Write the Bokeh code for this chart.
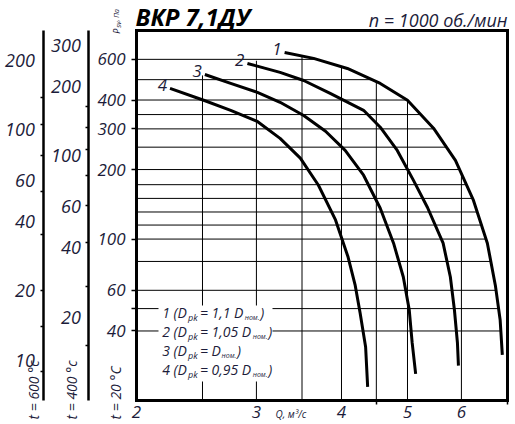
import numpy as np
from bokeh.plotting import figure
from bokeh.models import (Range1d, LogScale, LogAxis, FixedTicker,
                          NumeralTickFormatter, Label, BoxAnnotation)
from bokeh.core.properties import value
from bokeh.embed import file_html
from bokeh.resources import INLINE

# ---------------- data ----------------
Q_RANGE = [2, 7]          # m3/s
P_RANGE = [20, 800]       # Pa at 20 C

CURVE_NAMES = ["1", "2", "3", "4"]
Q1 = [3.30, 3.64, 4.08, 4.56, 5.00, 5.46, 5.88, 6.25, 6.55, 6.73, 6.84, 6.89]
P1 = [643, 606, 548, 472, 399, 302, 219, 147, 96, 63, 44.6, 31.5]
Q2 = [2.91, 3.25, 3.52, 3.85, 4.31, 4.56, 4.83, 5.10, 5.35, 5.64, 5.78, 5.86, 5.92, 5.94]
P2 = [576, 527, 486, 427, 361, 305, 242, 180, 137, 96, 68.5, 49.3, 35.5, 28.3]
Q3 = [2.52, 2.75, 3.01, 3.25, 3.52, 3.79, 4.05, 4.31, 4.56, 4.77, 4.93, 5.03, 5.08, 5.14]
P3 = [516, 472, 432, 391, 343, 293, 242, 189, 136, 96, 68.5, 49.3, 35.5, 26.1]
Q4 = [2.24, 2.51, 2.75, 3.01, 3.25, 3.48, 3.70, 3.92, 4.09, 4.19, 4.26, 4.34, 4.37]
P4 = [449, 399, 361, 323, 273, 224, 171, 121, 83.6, 63, 47.9, 34.1, 22.9]

P_GRID = [600, 490, 400, 346, 300, 250, 200, 172, 150, 131, 115, 100, 80, 60, 50, 40]
Q_GRID = [2.5, 3, 3.5, 4, 4.5, 5, 6]

P_TICKS = [40, 60, 100, 200, 300, 400, 600]
P_MINOR = [50]
Q_TICKS = [2, 3, 4, 5, 6]
Q_MINOR = [4.5, 7]

TEMPS = [20, 400, 600]
T400_TICKS = [20, 40, 60, 100, 200, 300]
T400_MINOR = [15, 27, 42, 61, 82, 106, 133, 163]
T600_TICKS = [10, 20, 40, 60, 100, 200]
T600_MINOR = [9, 14, 20, 35, 54, 77, 105, 137]

LEGEND_NUMS = ["1", "2", "3", "4"]
LEGEND_RATIOS = ["1,1 ", "1,05 ", "", "0,95 "]

TITLE = "ВКР 7,1ДУ"
SPEED = "n = 1000 об./мин"
Q_LABEL = "Q, м³/с"

# ---------------- layout (pixels) ----------------
W, H = 513, 422
AREA_L, AREA_R, AREA_T, AREA_B = 136, 506.5, 30, 400
AUX_PX = {"t400": 88.3, "t600": 43.3}

lx0, lx1 = np.log10(Q_RANGE)
ly0, ly1 = np.log10(P_RANGE)
kx = (lx1 - lx0) / (AREA_R - AREA_L)
ky = (ly1 - ly0) / (AREA_B - AREA_T)
x_lo = 10 ** (lx0 - kx * AREA_L)
x_hi = 10 ** (lx1 + kx * (W - AREA_R))
y_lo = 10 ** (ly0 - ky * (H - AREA_B))
y_hi = 10 ** (ly1 + ky * AREA_T)


def x_at(px):
    return 10 ** (lx0 + kx * (px - AREA_L))


FONT = "Open Sans"
TXT = "#1c1c3a"

p = figure(width=W, height=H, x_axis_type="log", y_axis_type="log",
           x_range=Range1d(x_lo, x_hi), y_range=Range1d(y_lo, y_hi),
           output_backend="svg", toolbar_location=None,
           min_border=0, min_border_left=0, min_border_right=0,
           min_border_top=0, min_border_bottom=0)
p.background_fill_color = "white"
p.border_fill_color = "white"
p.outline_line_color = None
p.grid.visible = False


def style_labels(ax, size):
    ax.major_label_text_font = FONT
    ax.major_label_text_font_style = "italic"
    ax.major_label_text_font_size = size
    ax.major_label_text_color = TXT


def frame_line(ax, width=3):
    ax.axis_line_color = "black"
    ax.axis_line_width = width
    ax.axis_line_cap = "square"


# main pressure axis (20 C) = left side of the chart box
ya = p.yaxis[0]
ya.fixed_location = Q_RANGE[0]
ya.bounds = tuple(P_RANGE)
ya.ticker = FixedTicker(ticks=P_TICKS, minor_ticks=P_MINOR)
ya.formatter = NumeralTickFormatter(format="0")
ya.major_tick_out = 5
ya.major_tick_in = 0
ya.minor_tick_out = 5
ya.minor_tick_in = 0
ya.major_tick_line_width = 1.5
ya.minor_tick_line_width = 1.5
ya.major_tick_line_color = "black"
ya.minor_tick_line_color = "black"
ya.major_label_standoff = 6
frame_line(ya)
style_labels(ya, "17px")

# flow axis = bottom side of the chart box
xa = p.xaxis[0]
xa.fixed_location = P_RANGE[0]
xa.bounds = tuple(Q_RANGE)
xa.ticker = FixedTicker(ticks=Q_TICKS, minor_ticks=Q_MINOR)
xa.formatter = NumeralTickFormatter(format="0")
xa.major_tick_out = 0
xa.major_tick_in = 0
xa.major_tick_line_color = None
xa.minor_tick_out = 4
xa.minor_tick_in = 0
xa.minor_tick_line_width = 1.5
xa.minor_tick_line_color = "black"
xa.major_label_standoff = 1
frame_line(xa)
style_labels(xa, "17px")

# top and right sides of the chart box
top_ax = LogAxis(fixed_location=P_RANGE[1], bounds=tuple(Q_RANGE),
                 ticker=FixedTicker(ticks=[]), major_tick_out=0,
                 major_tick_in=0, minor_tick_out=0, minor_tick_in=0,
                 major_label_text_font_size="0px")
frame_line(top_ax)
p.add_layout(top_ax, "above")
right_ax = LogAxis(fixed_location=Q_RANGE[1], bounds=tuple(P_RANGE),
                   ticker=FixedTicker(ticks=[]), major_tick_out=0,
                   major_tick_in=0, minor_tick_out=0, minor_tick_in=0,
                   major_label_text_font_size="0px")
frame_line(right_ax)
p.add_layout(right_ax, "right")

# auxiliary temperature axes
ratio = {t: (273 + TEMPS[0]) / (273 + t) for t in TEMPS}
p.extra_y_ranges = {
    "t400": Range1d(y_lo * ratio[400], y_hi * ratio[400]),
    "t600": Range1d(y_lo * ratio[600], y_hi * ratio[600]),
}
p.extra_y_scales = {"t400": LogScale(), "t600": LogScale()}


def aux_axis(name, t, ticks, minor, standoff):
    ax = LogAxis(y_range_name=name, fixed_location=x_at(AUX_PX[name]),
                 bounds=(P_RANGE[0] * ratio[t], P_RANGE[1] * ratio[t]),
                 ticker=FixedTicker(ticks=ticks, minor_ticks=minor),
                 formatter=NumeralTickFormatter(format="0"))
    ax.major_tick_out = 0
    ax.major_tick_in = 0
    ax.major_tick_line_color = None
    ax.minor_tick_out = 3
    ax.minor_tick_in = 0
    ax.minor_tick_line_width = 1.5
    ax.minor_tick_line_color = "black"
    ax.major_label_standoff = standoff
    frame_line(ax, 2.5)
    ax.axis_line_cap = "butt"
    style_labels(ax, "18px")
    return ax


p.add_layout(aux_axis("t400", 400, T400_TICKS, T400_MINOR, 5), "left")
p.add_layout(aux_axis("t600", 600, T600_TICKS, T600_MINOR, 6), "left")

# ---------------- grid clipped under the envelope ----------------
lq1, lp1 = np.log10(Q1), np.log10(P1)
h_end = 10 ** np.interp(np.log10(P_GRID), lp1[::-1], lq1[::-1])
p.segment(x0=[Q_RANGE[0]] * len(P_GRID), y0=P_GRID, x1=h_end, y1=P_GRID,
          line_color="black", line_width=1)

env_q = [Q4[0], Q3[0], Q2[0]] + Q1
env_p = [P4[0], P3[0], P2[0]] + P1
v_top = 10 ** np.interp(np.log10(Q_GRID), np.log10(env_q), np.log10(env_p))
p.segment(x0=Q_GRID, y0=[P_RANGE[0]] * len(Q_GRID), x1=Q_GRID, y1=v_top,
          line_color="black", line_width=1)

# ---------------- curves ----------------
for q, pp in [(Q1, P1), (Q2, P2), (Q3, P3), (Q4, P4)]:
    p.line(q, pp, line_color="black", line_width=3, line_join="round")

p.text(x=[Q1[0], Q2[0], Q3[0], Q4[0]], y=[P1[0], P2[0], P3[0], P4[0]],
       text=CURVE_NAMES, text_align="right", text_baseline="middle",
       x_offset=-3, y_offset=-3, text_font=value(FONT),
       text_font_style="italic", text_font_size="17px", text_color=TXT)


# ---------------- texts (pixel placed) ----------------
MID = 0.39   # em-box middle above the baseline


def lab(text, px, py_base, size, style="italic", color=TXT, align="left"):
    """Horizontal text whose baseline sits at pixel row py_base."""
    p.add_layout(Label(x=px, y=H - (py_base - MID * size),
                       x_units="screen", y_units="screen",
                       text=text, text_font=FONT, text_font_style=style,
                       text_font_size=f"{size}px", text_color=color,
                       text_align=align, text_baseline="middle"))


def rlab(text, xc, py_start, size):
    """Text rotated to read upwards, starting at pixel row py_start."""
    p.add_layout(Label(x=xc, y=H - py_start, x_units="screen",
                       y_units="screen", text=text, text_font=FONT,
                       text_font_style="italic", text_font_size=f"{size}px",
                       text_color=TXT, text_align="left",
                       text_baseline="middle", angle=90, angle_units="deg"))


# legend block with white knock-out
p.add_layout(BoxAnnotation(left=158, right=272, top=H - 305, bottom=H - 381,
                           left_units="screen", right_units="screen",
                           bottom_units="screen", top_units="screen",
                           fill_color="white", fill_alpha=1.0,
                           line_color=None))

CW = {" ": .26, "=": .572, ",": .25, "D": .716, "(": .30, ")": .30,
      ".": .25, "p": .58, "k": .51, "н": .58, "о": .575, "м": .73}


def tw(s, size):
    return sum(CW.get(c, .572) for c in s) * size


LEG_X0, LEG_Y0, LEG_DY = 161.7, 317.3, 19.0
for i, (num, rt) in enumerate(zip(LEGEND_NUMS, LEGEND_RATIOS)):
    yb = LEG_Y0 + i * LEG_DY
    x = LEG_X0
    s1 = num + " (D"
    lab(s1, x, yb, 14)
    x += tw(s1, 14)
    lab("pk", x, yb + 3, 9)
    x += tw("pk", 9) + 2
    s2 = "= " + rt + "D"
    lab(s2, x, yb, 14)
    x += tw(s2, 14)
    lab("ном.", x, yb + 2, 7)
    x += tw("ном.", 7) + 0.5
    lab(")", x, yb, 14)

# title and speed
lab(TITLE, 135, 25, 24, style="bold italic", color="black")
lab(SPEED, 507, 26.5, 18, align="right")

# rotated temperature captions under each pressure scale
for t, xc in zip(TEMPS, [115, 71, 32.5]):
    unit = "°C" if t == TEMPS[0] else "°c"
    rlab(f"t = {t} {unit}", xc, 419, 14)

# pressure caption P_sv, Па (rotated)
rlab("P", 115.8, 33.3, 9)
rlab("sv", 117.8, 27.3, 7)
rlab(", Па", 115.5, 20.8, 7)

# flow caption
lab(Q_LABEL, 275, 417.5, 10)

open("out.html", "w").write(file_html(p, INLINE))
